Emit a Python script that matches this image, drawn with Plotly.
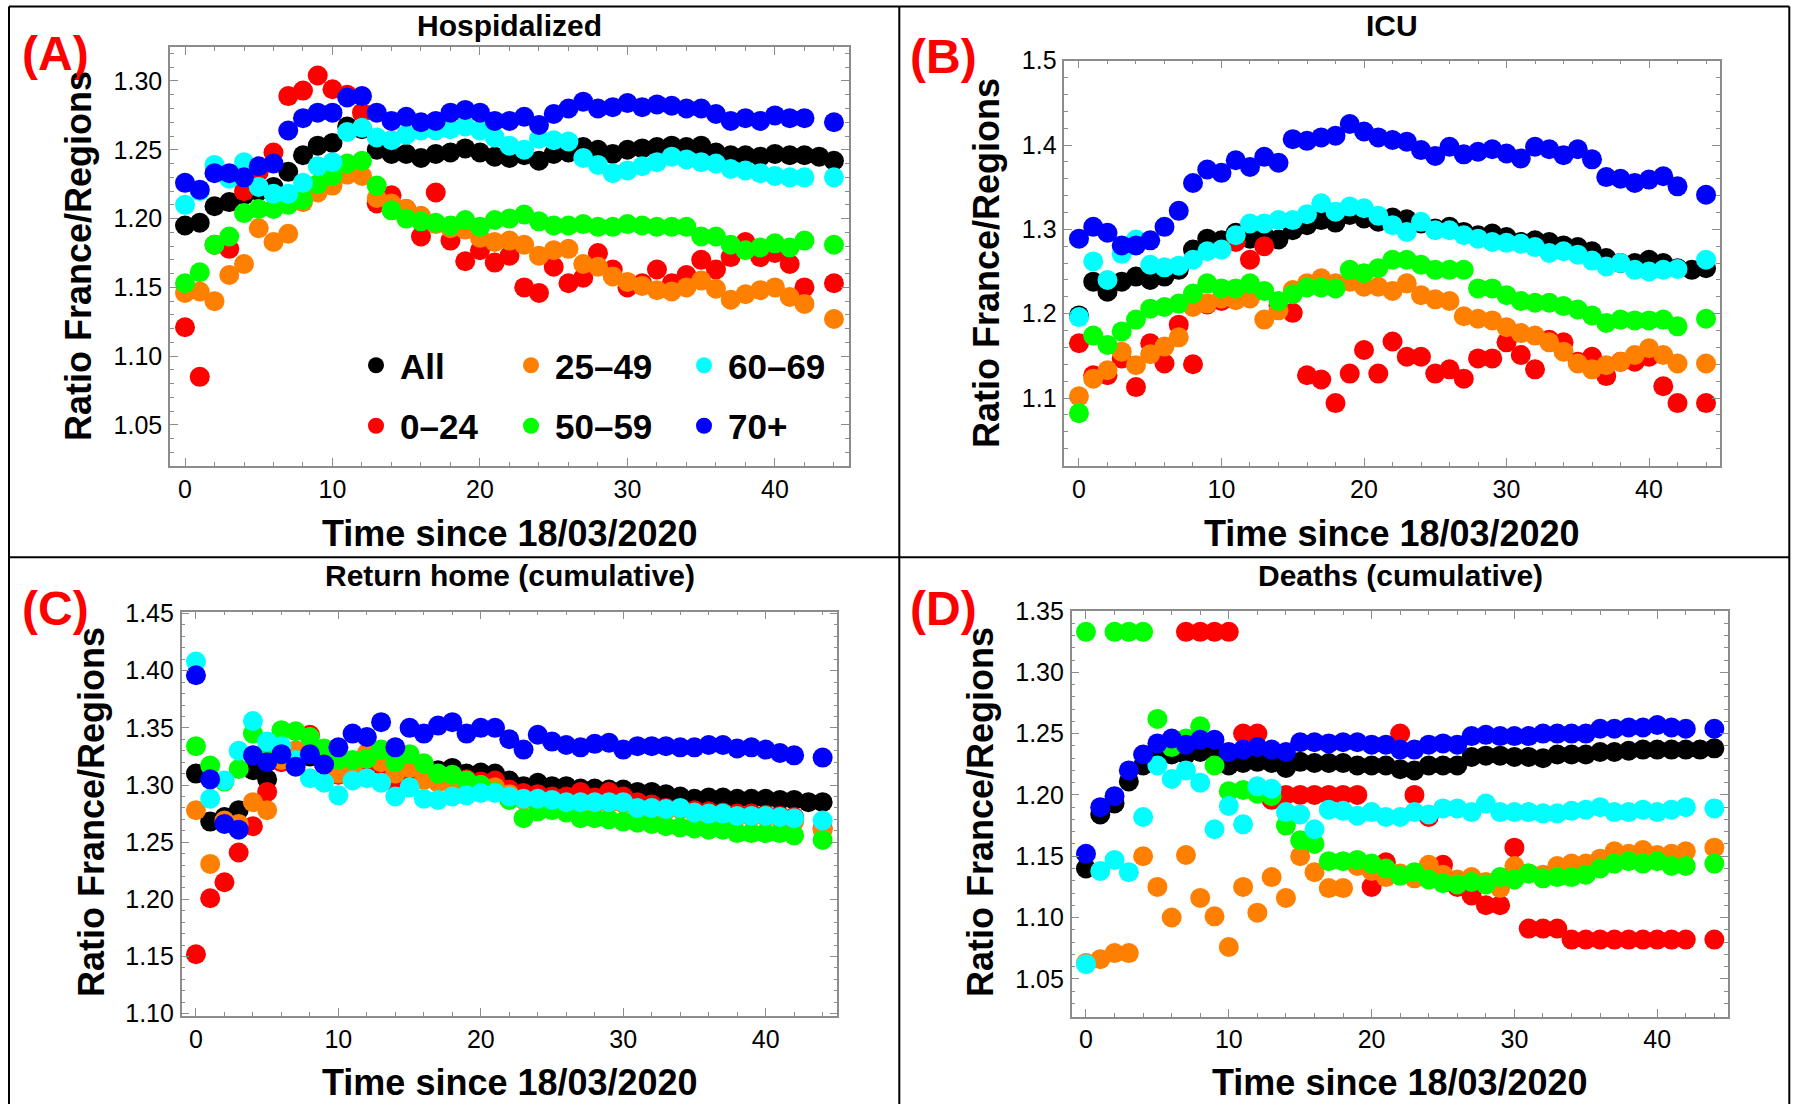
import plotly.graph_objects as go

W, H = 1793, 1104

days = list(range(45))
groups = ["All", "0–24", "25–49", "50–59", "60–69", "70+"]
colors = ["#000000", "#FF0000", "#FF8000", "#00FF00", "#00FFFF", "#0000FF"]

# ---------------- (A) Hospitalized ----------------
hosp_all = [1.195, 1.197, 1.209, 1.212, 1.217, 1.220, 1.223, 1.234, 1.246, 1.253, 1.255, 1.267, 1.265, 1.250, 1.247,
            1.247, 1.244, 1.247, 1.248, 1.251, 1.248, 1.245, 1.244, 1.246, 1.242, 1.247, 1.248, 1.252, 1.250, 1.247,
            1.250, 1.251, 1.252, 1.253, 1.252, 1.253, 1.248, 1.246, 1.246, 1.245, 1.247, 1.246, 1.246, 1.245, 1.242]
hosp_0_24 = [1.121, 1.085, 1.181, 1.178, 1.220, 1.234, 1.248, 1.289, 1.293, 1.304, 1.294, 1.290, 1.277, 1.211, 1.217,
             1.207, 1.187, 1.219, 1.184, 1.169, 1.177, 1.168, 1.173, 1.150, 1.146, 1.165, 1.153, 1.157, 1.175, 1.163,
             1.150, 1.153, 1.163, 1.153, 1.159, 1.170, 1.163, 1.172, 1.183, 1.172, 1.175, 1.167, 1.150, None, 1.153]
hosp_25_49 = [1.146, 1.147, 1.140, 1.159, 1.167, 1.193, 1.183, 1.189, 1.212, 1.219, 1.224, 1.232, 1.231, 1.215, 1.211,
              1.207, 1.202, 1.196, 1.193, 1.192, 1.186, 1.183, 1.184, 1.181, 1.173, 1.177, 1.178, 1.167, 1.165, 1.158,
              1.154, 1.151, 1.148, 1.147, 1.150, 1.155, 1.149, 1.141, 1.145, 1.148, 1.150, 1.143, 1.138, None, 1.127]
hosp_50_59 = [1.153, 1.161, 1.181, 1.187, 1.204, 1.207, 1.207, 1.210, 1.214, 1.225, 1.231, 1.240, 1.242, 1.224, 1.206,
              1.200, 1.198, 1.197, 1.195, 1.199, 1.194, 1.199, 1.200, 1.203, 1.198, 1.195, 1.195, 1.196, 1.194, 1.194,
              1.196, 1.195, 1.194, 1.194, 1.194, 1.187, 1.187, 1.181, 1.177, 1.179, 1.182, 1.179, 1.184, None, 1.181]
hosp_60_69 = [1.210, 1.220, 1.239, 1.229, 1.241, 1.223, 1.218, 1.218, 1.226, 1.238, 1.241, 1.263, 1.266, 1.259, 1.257,
              1.261, 1.264, 1.264, 1.265, 1.267, 1.264, 1.259, 1.253, 1.250, 1.258, 1.257, 1.256, 1.244, 1.239, 1.233,
              1.235, 1.238, 1.241, 1.245, 1.243, 1.241, 1.240, 1.236, 1.235, 1.233, 1.231, 1.230, 1.230, None, 1.230]
hosp_70p = [1.226, 1.221, 1.233, 1.233, 1.230, 1.238, 1.240, 1.264, 1.273, 1.277, 1.277, 1.288, 1.289, 1.277, 1.271,
            1.274, 1.270, 1.271, 1.277, 1.279, 1.277, 1.271, 1.271, 1.274, 1.268, 1.276, 1.280, 1.285, 1.280, 1.281,
            1.284, 1.281, 1.283, 1.282, 1.280, 1.280, 1.276, 1.271, 1.273, 1.271, 1.275, 1.273, 1.273, None, 1.270]

# ---------------- (B) ICU ----------------
icu_all = [1.198, 1.238, 1.226, 1.238, 1.244, 1.240, 1.244, 1.252, 1.276, 1.289, 1.287, 1.296, 1.289, 1.293, 1.288,
           1.299, 1.305, 1.311, 1.308, 1.317, 1.313, 1.309, 1.314, 1.312, 1.307, 1.301, 1.303, 1.297, 1.293, 1.295,
           1.291, 1.285, 1.287, 1.285, 1.281, 1.279, 1.274, 1.266, 1.260, 1.260, 1.264, 1.260, 1.254, 1.252, 1.254]
icu_0_24 = [1.165, 1.127, 1.127, 1.147, 1.113, 1.165, 1.141, 1.187, 1.140, 1.211, 1.215, 1.285, 1.264, 1.280, 1.210,
            1.201, 1.127, 1.122, 1.094, 1.129, 1.157, 1.129, 1.167, 1.149, 1.149, 1.129, 1.134, 1.123, 1.147, 1.147,
            1.166, 1.151, 1.134, 1.169, 1.166, 1.143, 1.149, 1.126, 1.143, 1.143, 1.149, 1.114, 1.094, None, 1.094]
icu_25_49 = [1.102, 1.123, 1.133, 1.155, 1.139, 1.152, 1.161, 1.172, 1.208, 1.212, 1.218, 1.216, 1.218, 1.193, 1.204,
             1.228, 1.236, 1.242, 1.236, 1.238, 1.232, 1.232, 1.227, 1.236, 1.222, 1.217, 1.215, 1.197, 1.194, 1.192,
             1.184, 1.177, 1.174, 1.166, 1.155, 1.141, 1.134, 1.139, 1.143, 1.151, 1.159, 1.151, 1.141, None, 1.141]
icu_50_59 = [1.082, 1.174, 1.163, 1.179, 1.193, 1.206, 1.208, 1.212, 1.224, 1.236, 1.230, 1.230, 1.236, 1.227, 1.215,
             1.223, 1.231, 1.231, 1.230, 1.252, 1.248, 1.254, 1.264, 1.264, 1.258, 1.252, 1.252, 1.252, 1.230, 1.230,
             1.222, 1.215, 1.213, 1.213, 1.209, 1.205, 1.198, 1.189, 1.193, 1.192, 1.192, 1.193, 1.185, None, 1.194]
icu_60_69 = [1.196, 1.262, 1.240, 1.271, 1.288, 1.258, 1.255, 1.257, 1.264, 1.274, 1.276, 1.293, 1.307, 1.307, 1.311,
             1.311, 1.318, 1.331, 1.321, 1.327, 1.325, 1.316, 1.305, 1.297, 1.309, 1.299, 1.299, 1.293, 1.289, 1.285,
             1.284, 1.283, 1.279, 1.272, 1.274, 1.270, 1.263, 1.256, 1.260, 1.252, 1.250, 1.252, 1.253, None, 1.264]
icu_70p = [1.289, 1.303, 1.296, 1.281, 1.281, 1.287, 1.303, 1.322, 1.355, 1.371, 1.367, 1.382, 1.374, 1.386, 1.379,
           1.407, 1.405, 1.409, 1.411, 1.425, 1.416, 1.409, 1.406, 1.404, 1.394, 1.387, 1.398, 1.389, 1.392, 1.395,
           1.390, 1.384, 1.398, 1.395, 1.388, 1.395, 1.383, 1.362, 1.360, 1.355, 1.359, 1.363, 1.351, None, 1.341]

# ---------------- (C) Return home (cumulative) ----------------
home_all = [1.310, 1.268, 1.272, 1.278, 1.313, 1.305, 1.322, 1.325, 1.325, 1.318, 1.312, 1.315, 1.315, 1.318, 1.315,
            1.318, 1.315, 1.313, 1.315, 1.310, 1.311, 1.310, 1.304, 1.299, 1.302, 1.299, 1.299, 1.297, 1.297, 1.296,
            1.296, 1.294, 1.294, 1.292, 1.290, 1.288, 1.289, 1.289, 1.288, 1.288, 1.288, 1.287, 1.287, 1.285, 1.285]
home_0_24 = [1.152, 1.201, 1.215, 1.241, 1.264, 1.294, 1.320, 1.330, 1.344, 1.320, 1.309, 1.312, 1.316, 1.318, 1.301,
             1.308, 1.305, 1.305, 1.307, 1.305, 1.303, 1.304, 1.296, 1.293, 1.292, 1.290, 1.290, 1.294, 1.289, 1.294,
             1.290, 1.285, 1.283, 1.280, 1.279, 1.278, 1.277, 1.276, 1.275, 1.275, 1.274, 1.273, 1.272, None, 1.262]
home_25_49 = [1.278, 1.231, 1.269, 1.266, 1.285, 1.278, 1.322, 1.330, 1.335, 1.322, 1.310, 1.315, 1.328, 1.320, 1.310,
              1.315, 1.305, 1.302, 1.300, 1.302, 1.300, 1.298, 1.292, 1.287, 1.287, 1.286, 1.284, 1.284, 1.284, 1.284,
              1.284, 1.279, 1.279, 1.278, 1.279, 1.275, 1.274, 1.274, 1.272, 1.272, 1.272, 1.271, 1.268, None, 1.261]
home_50_59 = [1.334, 1.317, 1.303, 1.314, 1.345, 1.332, 1.348, 1.347, 1.342, 1.332, 1.322, 1.322, 1.323, 1.331, 1.320,
              1.327, 1.319, 1.310, 1.309, 1.304, 1.300, 1.294, 1.287, 1.271, 1.277, 1.278, 1.276, 1.271, 1.271, 1.270,
              1.268, 1.267, 1.266, 1.264, 1.263, 1.262, 1.261, 1.261, 1.258, 1.258, 1.258, 1.258, 1.256, None, 1.252]
home_60_69 = [1.408, 1.288, 1.304, 1.330, 1.356, 1.338, 1.334, 1.322, 1.306, 1.302, 1.291, 1.304, 1.306, 1.302, 1.290,
              1.298, 1.288, 1.287, 1.290, 1.291, 1.293, 1.293, 1.290, 1.288, 1.288, 1.287, 1.285, 1.285, 1.285, 1.285,
              1.285, 1.280, 1.280, 1.279, 1.280, 1.276, 1.275, 1.275, 1.273, 1.273, 1.273, 1.272, 1.271, None, 1.269]
home_70p = [1.396, 1.305, 1.266, 1.261, 1.326, 1.320, 1.327, 1.316, 1.327, 1.318, 1.333, 1.345, 1.342, 1.355, 1.333,
            1.350, 1.345, 1.352, 1.355, 1.345, 1.350, 1.350, 1.340, 1.331, 1.344, 1.338, 1.335, 1.333, 1.336, 1.337,
            1.331, 1.334, 1.334, 1.334, 1.333, 1.333, 1.335, 1.335, 1.332, 1.333, 1.331, 1.328, 1.326, None, 1.324]

# ---------------- (D) Deaths (cumulative) ----------------
death_all = [1.140, 1.184, 1.193, 1.211, 1.224, 1.237, 1.233, 1.233, 1.235, 1.234, 1.224, 1.226, 1.227, 1.226, 1.222,
             1.227, 1.226, 1.226, 1.226, 1.224, 1.224, 1.224, 1.221, 1.220, 1.224, 1.224, 1.224, 1.231, 1.232, 1.232,
             1.231, 1.231, 1.230, 1.233, 1.233, 1.233, 1.235, 1.235, 1.236, 1.237, 1.237, 1.237, 1.237, 1.237, 1.238]
death_0_24 = [None, None, None, None, None, None, None, 1.333, 1.333, 1.333, 1.333, 1.250, 1.250, 1.196, 1.200,
              1.200, 1.200, 1.200, 1.200, 1.200, 1.125, 1.145, 1.250, 1.200, 1.182, 1.143, 1.125, 1.118, 1.110, 1.110,
              1.157, 1.091, 1.091, 1.091, 1.082, 1.082, 1.082, 1.082, 1.082, 1.082, 1.082, 1.082, 1.082, None, 1.082]
death_25_49 = [1.063, 1.066, 1.071, 1.071, 1.150, 1.125, 1.100, 1.151, 1.116, 1.101, 1.076, 1.125, 1.104, 1.133, 1.116,
               1.150, 1.137, 1.124, 1.124, 1.142, 1.138, 1.133, 1.136, 1.132, 1.143, 1.135, 1.131, 1.133, 1.129, 1.124,
               1.142, 1.136, 1.135, 1.142, 1.144, 1.144, 1.148, 1.154, 1.152, 1.155, 1.151, 1.152, 1.154, None, 1.157]
death_50_59 = [1.333, None, 1.333, 1.333, 1.333, 1.262, 1.239, 1.246, 1.256, 1.224, 1.203, 1.204, 1.201, 1.199, 1.175,
               1.163, 1.160, 1.146, 1.146, 1.147, 1.144, 1.140, 1.134, 1.137, 1.131, 1.128, 1.127, 1.129, 1.127, 1.133,
               1.131, 1.136, 1.132, 1.133, 1.133, 1.135, 1.140, 1.144, 1.146, 1.144, 1.146, 1.142, 1.142, None, 1.144]
death_60_69 = [1.062, 1.138, 1.147, 1.137, 1.182, 1.224, 1.213, 1.220, 1.210, 1.172, 1.191, 1.176, 1.207, 1.205, 1.186,
               1.184, 1.172, 1.188, 1.187, 1.183, 1.186, 1.182, 1.182, 1.186, 1.184, 1.189, 1.189, 1.186, 1.193, 1.186,
               1.186, 1.186, 1.185, 1.185, 1.187, 1.188, 1.190, 1.186, 1.186, 1.188, 1.186, 1.188, 1.190, None, 1.189]
death_70p = [1.152, 1.190, 1.199, 1.220, 1.233, 1.242, 1.246, 1.241, 1.245, 1.245, 1.235, 1.237, 1.239, 1.237, 1.235,
             1.243, 1.243, 1.242, 1.243, 1.243, 1.241, 1.241, 1.237, 1.237, 1.241, 1.242, 1.241, 1.248, 1.249, 1.248,
             1.248, 1.248, 1.250, 1.250, 1.250, 1.250, 1.254, 1.254, 1.255, 1.255, 1.257, 1.255, 1.254, None, 1.254]

panel_titles = ["Hospidalized", "ICU", "Return home (cumulative)", "Deaths (cumulative)"]
panel_letters = ["(A)", "(B)", "(C)", "(D)"]
x_title = "Time since 18/03/2020"
y_title = "Ratio France/Regions"

panel_series = [
    [hosp_all, hosp_0_24, hosp_25_49, hosp_50_59, hosp_60_69, hosp_70p],
    [icu_all, icu_0_24, icu_25_49, icu_50_59, icu_60_69, icu_70p],
    [home_all, home_0_24, home_25_49, home_50_59, home_60_69, home_70p],
    [death_all, death_0_24, death_25_49, death_50_59, death_60_69, death_70p],
]

# ---------------- layout geometry (pixels) ----------------
def px_x(p):
    return p / W


def px_y(p):
    return 1 - p / H


plot_boxes = [  # left, right, top, bottom in pixels
    (170.0, 849.0, 47.0, 466.0),
    (1064.3, 1720.0, 60.7, 466.0),
    (181.7, 837.3, 611.7, 1016.0),
    (1071.7, 1727.5, 611.0, 1016.5),
]
x_ranges = [[-1.017, 45.02], [-1.03, 44.98], [-1.0, 45.03], [-1.0, 44.92]]
y_ranges = [[1.0202, 1.3247], [1.0194, 1.5], [1.098, 1.4516], [1.0193, 1.35]]
y_tick0 = [1.05, 1.1, 1.1, 1.05]
y_dtick = [0.05, 0.1, 0.05, 0.05]
y_minor = [0.01, 0.02, 0.01, 0.01]
y_fmt = [".2f", ".1f", ".2f", ".2f"]

title_pos = [(509, 25), (1392, 25), (510, 575), (1400, 575)]
letter_pos = [(55, 54), (944, 57), (55, 608), (944, 608)]
xtitle_pos = [(510, 533), (1392, 533), (510, 1082), (1400, 1082)]
ytitle_pos = [(78, 256), (986, 263), (91, 812), (980, 812)]

legend_of = ["legend", "legend", "legend2", "legend2", "legend3", "legend3"]

fig = go.Figure()

for p in range(4):
    sfx = "" if p == 0 else str(p + 1)
    for g in range(6):
        fig.add_trace(go.Scatter(
            x=days, y=panel_series[p][g], mode="markers", name="<b>%s</b>" % groups[g],
            marker=dict(color=colors[g], size=20, line=dict(width=0)),
            xaxis="x" + sfx, yaxis="y" + sfx,
            showlegend=(p == 0), legend=legend_of[g], legendgroup=groups[g],
        ))

axis_color = "#8c8c8c"
tick_font = dict(family="Liberation Sans, Arial, sans-serif", size=25, color="#000000")

layout = dict(
    template="none",
    width=W, height=H, autosize=False,
    margin=dict(l=0, r=0, t=0, b=0, pad=0, autoexpand=False),
    paper_bgcolor="white", plot_bgcolor="white",
    annotations=[], shapes=[],
)

for p in range(4):
    sfx = "" if p == 0 else str(p + 1)
    l, r, t, b = plot_boxes[p]
    layout["xaxis" + sfx] = dict(
        domain=[px_x(l), px_x(r)], range=x_ranges[p], anchor="y" + sfx, automargin=False,
        tick0=0, dtick=10, ticks="inside", ticklen=8, tickwidth=1.2, tickcolor=axis_color,
        minor=dict(dtick=2, tick0=0, ticks="inside", ticklen=4, tickwidth=1, tickcolor=axis_color),
        showline=True, linecolor=axis_color, linewidth=1.5, mirror="ticks",
        showgrid=False, zeroline=False, tickfont=tick_font, ticklabelstandoff=0,
    )
    layout["yaxis" + sfx] = dict(
        domain=[px_y(b), px_y(t)], range=y_ranges[p], anchor="x" + sfx, automargin=False,
        tick0=y_tick0[p], dtick=y_dtick[p], tickformat=y_fmt[p],
        ticks="inside", ticklen=8, tickwidth=1.2, tickcolor=axis_color,
        minor=dict(dtick=y_minor[p], tick0=1.0, ticks="inside", ticklen=4, tickwidth=1, tickcolor=axis_color),
        showline=True, linecolor=axis_color, linewidth=1.5, mirror="ticks",
        showgrid=False, zeroline=False, tickfont=tick_font, ticklabelstandoff=1,
    )
    bold = "Liberation Sans, Arial, sans-serif"
    layout["annotations"] += [
        dict(text="<b>%s</b>" % panel_titles[p], x=px_x(title_pos[p][0]), y=px_y(title_pos[p][1]),
             xref="paper", yref="paper", xanchor="center", yanchor="middle", showarrow=False,
             font=dict(family=bold, size=30, color="#000000")),
        dict(text="<b>%s</b>" % panel_letters[p], x=px_x(letter_pos[p][0]), y=px_y(letter_pos[p][1]),
             xref="paper", yref="paper", xanchor="center", yanchor="middle", showarrow=False,
             font=dict(family=bold, size=48, color="#FF0000")),
        dict(text="<b>%s</b>" % x_title, x=px_x(xtitle_pos[p][0]), y=px_y(xtitle_pos[p][1]),
             xref="paper", yref="paper", xanchor="center", yanchor="middle", showarrow=False,
             font=dict(family=bold, size=36, color="#000000")),
        dict(text="<b>%s</b>" % y_title, x=px_x(ytitle_pos[p][0]), y=px_y(ytitle_pos[p][1]),
             xref="paper", yref="paper", xanchor="center", yanchor="middle", showarrow=False, textangle=-90,
             font=dict(family=bold, size=36, color="#000000")),
    ]

# frame lines dividing the four panels
frame = [
    (9, 6.4, 1789.3, 6.4), (9, 6.4, 9, 1104), (1789.3, 6.4, 1789.3, 1104),
    (899.3, 6.4, 899.3, 1104), (9, 557.3, 1789.3, 557.3),
]
for x0, y0, x1, y1 in frame:
    layout["shapes"].append(dict(type="line", xref="paper", yref="paper",
                                 x0=px_x(x0), y0=px_y(y0), x1=px_x(x1), y1=px_y(y1),
                                 line=dict(color="#000000", width=2)))

leg_font = dict(family="Liberation Sans, Arial, sans-serif", size=35, color="#000000")
leg_common = dict(orientation="v", xanchor="left", yanchor="top", bgcolor="rgba(0,0,0,0)",
                  borderwidth=0, font=leg_font, itemwidth=38, traceorder="grouped",
                  tracegroupgap=12, itemclick=False)
legend_x = [374 - 22, 528 - 21, 702 - 22]
for i, name in enumerate(["legend", "legend2", "legend3"]):
    d = dict(leg_common)
    d.update(x=px_x(legend_x[i]), y=px_y(336))
    layout[name] = d

fig.update_layout(**layout)

fig.write_html("out.html")
